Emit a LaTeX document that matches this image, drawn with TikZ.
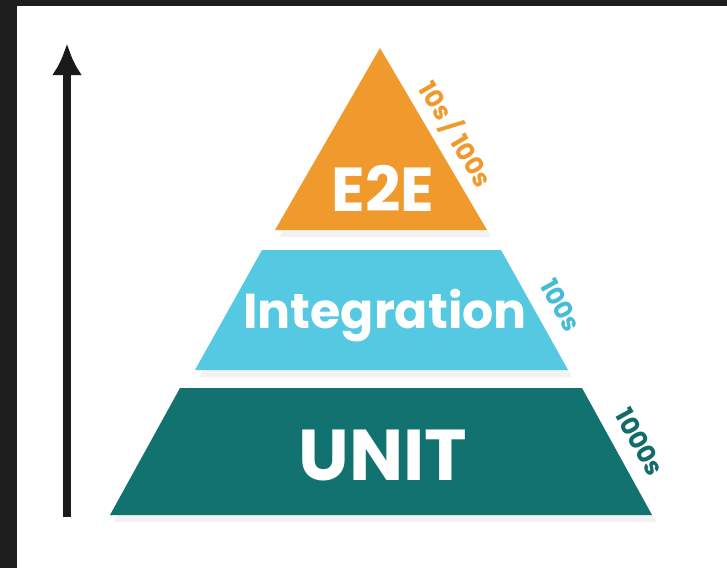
\documentclass[tikz,border=0pt]{standalone}
\usepackage{fontspec}
\setmainfont{Poppins}
\usetikzlibrary{shadows,arrows.meta}
\definecolor{frame}{HTML}{1E1E1E}
\definecolor{cOrange}{HTML}{F0992D}
\definecolor{cBlue}{HTML}{55C9E2}
\definecolor{cTeal}{HTML}{127270}
\definecolor{lBlue}{HTML}{45BCD6}
\definecolor{lTeal}{HTML}{126B6B}
\definecolor{arrowc}{HTML}{1A1A1A}
\tikzset{
  tier/.style={draw=none, drop shadow={opacity=0.10, shadow xshift=4pt, shadow yshift=-7pt}},
  bigtext/.style={text=white, font=\bfseries, inner sep=0pt, anchor=center},
  countlbl/.style={font=\bfseries\fontsize{25}{25}\selectfont, inner sep=0pt, anchor=center},
}
\begin{document}
\begin{tikzpicture}[x=1pt,y=-1pt]
\useasboundingbox (0,0) rectangle (727,568);
\fill[frame] (0,0) rectangle (727,568);
\fill[white] (17,6) rectangle (727,568);
% tiers
\path[tier, fill=cTeal] (180,388) -- (582,388) -- (652,515) -- (110,515) -- cycle;
\path[tier, fill=cBlue] (262,250) -- (501,250) -- (568,370) -- (195,370) -- cycle;
\path[tier, fill=cOrange] (380,48) -- (487,230) -- (275,230) -- cycle;
% texts
\node[bigtext, font=\bfseries\fontsize{62}{62}\selectfont] (e2e) at (383,188) {E2E};
\node[bigtext, font=\bfseries\fontsize{49}{49}\selectfont] (integ) at (385,316) {Integration};
\node[bigtext, font=\bfseries\fontsize{72}{72}\selectfont] (unit) at (383,455) {UNIT};
% counts
\node[countlbl, text=cOrange, rotate=-59.5] (c1) at (456,134) {10s / 100s};
\node[countlbl, text=lBlue, rotate=-61] (c2) at (561,305) {100s};
\node[countlbl, text=lTeal, rotate=-61] (c3) at (640,442) {1000s};
% arrow
\coordinate (abot) at (67,517);
\coordinate (atop) at (67,43);
\draw[arrowc, line width=8pt, -{Latex[length=32pt,width=30pt]}] (abot) -- (atop);
\end{tikzpicture}
\end{document}
